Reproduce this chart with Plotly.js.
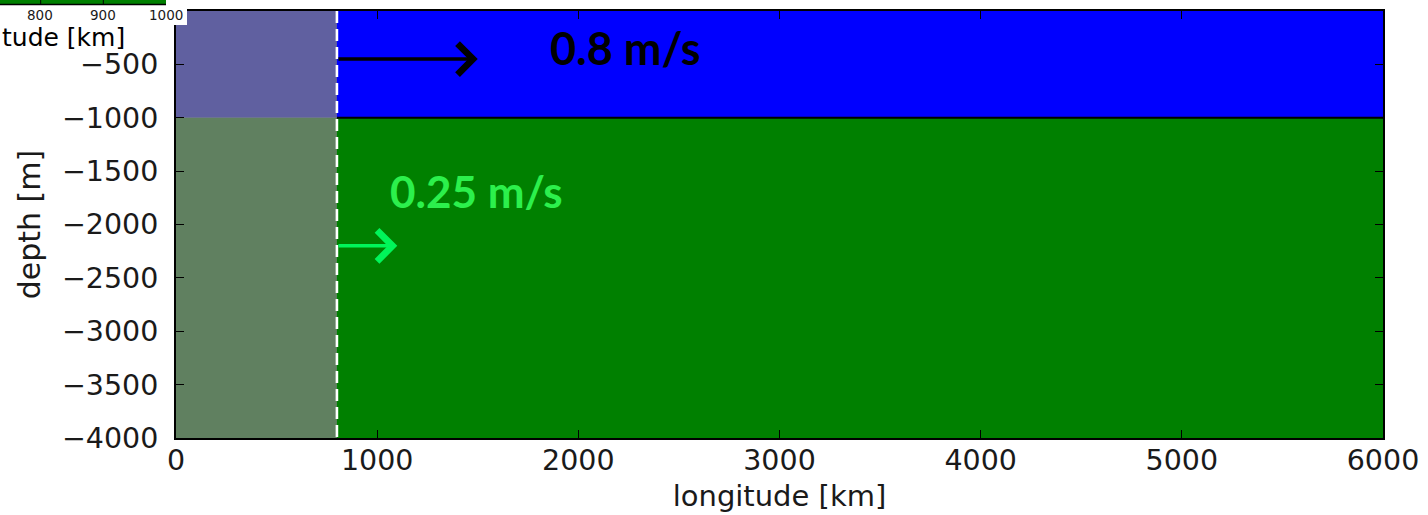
<!DOCTYPE html>
<html>
<head>
<meta charset="utf-8">
<script src="https://cdn.plot.ly/plotly-3.0.1.min.js"></script>
<style>
html,body{margin:0;padding:0;background:#fff;}
#chart{width:1428px;height:515px;}
</style>
</head>
<body>
<div id="chart"></div>
<script>
// ---- data ----
const xExtentKm = [0, 6000];
const layerTopM = [0, -1000];
const layerBottomM = [-1000, -4000];
const layerNames = ['upper layer', 'lower layer'];
const shadedEdgeKm = 800;
const speedLabels = ['0.8 m/s', '0.25 m/s'];
const arrowDepthM = [-450, -2200];
const arrowTipKm = [1500, 1100];
const xTickVals = [0, 1000, 2000, 3000, 4000, 5000, 6000];
const yTickVals = [-4000, -3500, -3000, -2500, -2000, -1500, -1000, -500];
const insetTickLabels = ['800', '900', '1000'];
const insetAxisLabel = 'tude [km]';

// ---- styles ----
const layerColors = ['#0000ff', '#008000'];
const arrowColors = ['#000000', '#00f55a'];
const labelColors = ['#000000', '#2cf04c'];

// plot-area geometry (pixels) used to place the pasted inset fragment
const L = 176, R = 1383, T = 11, B = 438;
const px = x => (x - L) / (R - L);
const py = y => (B - y) / (B - T);

const traces = [];
for (let i = 0; i < layerNames.length; i++) {
  traces.push({
    type: 'scatter', mode: 'lines', name: layerNames[i],
    x: [xExtentKm[0], xExtentKm[1], xExtentKm[1], xExtentKm[0], xExtentKm[0]],
    y: [layerTopM[i], layerTopM[i], layerBottomM[i], layerBottomM[i], layerTopM[i]],
    fill: 'toself', fillcolor: layerColors[i],
    line: {width: 0}, hoverinfo: 'skip', showlegend: false
  });
}
// shaded (sponge) region
traces.push({
  type: 'scatter', mode: 'lines',
  x: [xExtentKm[0], shadedEdgeKm, shadedEdgeKm, xExtentKm[0], xExtentKm[0]],
  y: [layerTopM[0], layerTopM[0], layerBottomM[1], layerBottomM[1], layerTopM[0]],
  fill: 'toself', fillcolor: 'rgba(128,128,128,0.75)',
  line: {width: 0}, hoverinfo: 'skip', showlegend: false
});
// interface line
traces.push({
  type: 'scatter', mode: 'lines',
  x: [shadedEdgeKm, xExtentKm[1]], y: [layerBottomM[0], layerBottomM[0]],
  line: {color: '#000', width: 2.2}, hoverinfo: 'skip', showlegend: false
});
// dashed boundary
traces.push({
  type: 'scatter', mode: 'lines',
  x: [shadedEdgeKm, shadedEdgeKm], y: [layerTopM[0], layerBottomM[1]],
  line: {color: '#fff', width: 2.6, dash: '12px,6px'}, hoverinfo: 'skip', showlegend: false
});

const annotations = [];
for (let i = 0; i < speedLabels.length; i++) {
  annotations.push({
    x: arrowTipKm[i], y: arrowDepthM[i], xref: 'x', yref: 'y',
    ax: shadedEdgeKm, ay: arrowDepthM[i], axref: 'x', ayref: 'y',
    showarrow: true, arrowhead: 4, arrowsize: 1.7, arrowwidth: 3.5,
    arrowcolor: arrowColors[i], text: '', standoff: 0, startstandoff: 0
  });
}
annotations.push({
  x: 2232, y: -350, xref: 'x', yref: 'y', showarrow: false,
  text: '<b>' + speedLabels[0] + '</b>',
  font: {family: 'Lato, "Open Sans", sans-serif', size: 45, color: labelColors[0]}
});
annotations.push({
  x: 1496, y: -1690, xref: 'x', yref: 'y', showarrow: false,
  text: '<b>' + speedLabels[1] + '</b>',
  font: {family: 'Lato, "Open Sans", sans-serif', size: 44, color: labelColors[1]}
});

// pasted inset fragment (top-left)
const insetX = [40, 103, 166];
insetTickLabels.forEach((t, i) => {
  annotations.push({
    x: px(insetX[i]), y: py(15), xref: 'paper', yref: 'paper',
    showarrow: false, text: t, xanchor: 'center', yanchor: 'middle',
    font: {family: 'DejaVu Sans', size: 13.5, color: '#1a1a1a'}
  });
});
annotations.push({
  x: px(0), y: py(38), xref: 'paper', yref: 'paper', showarrow: false,
  text: insetAxisLabel, xanchor: 'left', yanchor: 'middle',
  font: {family: 'DejaVu Sans', size: 25, color: '#000'}
});

const shapes = [
  {type: 'rect', xref: 'paper', yref: 'paper', x0: px(0), x1: px(187), y0: py(25), y1: py(-2),
   fillcolor: '#ffffff', line: {width: 0}, layer: 'above'},
  {type: 'rect', xref: 'paper', yref: 'paper', x0: px(0), x1: px(166), y0: py(4.5), y1: py(-2),
   fillcolor: '#008000', line: {width: 0}, layer: 'above'},
  {type: 'line', xref: 'paper', yref: 'paper', x0: px(0), x1: px(166), y0: py(4.5), y1: py(4.5),
   line: {color: '#000', width: 1.5}, layer: 'above'},
  {type: 'line', xref: 'paper', yref: 'paper', x0: px(40.7), x1: px(40.7), y0: py(4.5), y1: py(-2),
   line: {color: '#000', width: 1}, layer: 'above'},
  {type: 'line', xref: 'paper', yref: 'paper', x0: px(103.3), x1: px(103.3), y0: py(4.5), y1: py(-2),
   line: {color: '#000', width: 1}, layer: 'above'}
];

const axisFont = {family: 'DejaVu Sans', size: 28.5, color: '#1a1a1a'};
const layout = {
  width: 1428, height: 515,
  margin: {l: L, r: 1428 - R, t: T, b: 515 - B, pad: 0},
  paper_bgcolor: '#fff', plot_bgcolor: '#fff',
  showlegend: false,
  xaxis: {
    range: xExtentKm, tickvals: xTickVals, ticktext: xTickVals.map(String),
    ticks: 'inside', ticklen: 8, tickwidth: 1, tickcolor: '#000',
    showline: true, linecolor: '#000', linewidth: 2, mirror: 'allticks',
    showgrid: false, zeroline: false, tickfont: axisFont, ticklabelstandoff: -4,
    title: {text: 'longitude [km]', font: {family: 'DejaVu Sans', size: 29, color: '#1a1a1a'}, standoff: 9}
  },
  yaxis: {
    range: [layerBottomM[1], layerTopM[0]], tickvals: yTickVals,
    ticks: 'inside', ticklen: 8, tickwidth: 1, tickcolor: '#000',
    showline: true, linecolor: '#000', linewidth: 2, mirror: 'allticks',
    showgrid: false, zeroline: false, tickfont: axisFont, ticklabelstandoff: 10,
    title: {text: 'depth [m]', font: {family: 'DejaVu Sans', size: 30, color: '#1a1a1a'}, standoff: 12}
  },
  annotations: annotations,
  shapes: shapes
};

Plotly.newPlot('chart', traces, layout, {staticPlot: true, displayModeBar: false});
</script>
</body>
</html>
